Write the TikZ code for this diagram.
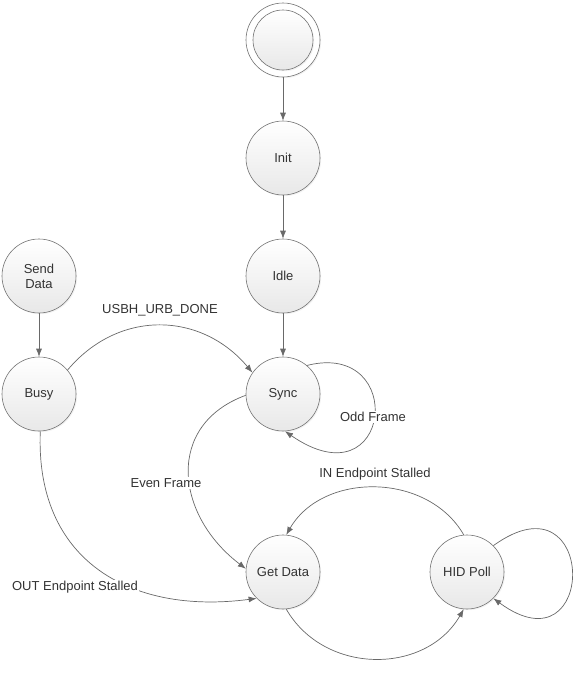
\documentclass[tikz,border=0pt]{standalone}
\definecolor{EdgeGray}{RGB}{105,105,105}
\definecolor{RimGray}{RGB}{115,115,115}
\definecolor{FillGray}{RGB}{232,232,232}
\definecolor{TextGray}{RGB}{51,51,51}
\usepackage{fontspec}
\setmainfont{Liberation Sans}
\usepackage{tikz}
\usetikzlibrary{arrows.meta,shadows}

\begin{document}
\begin{tikzpicture}[x=1pt,y=1pt,
    state/.style={circle,draw=RimGray,line width=0.6pt,top color=white,bottom color=FillGray,
      minimum size=74pt,inner sep=0pt,align=center,text=TextGray,
      font=\fontsize{13}{15}\selectfont,
      drop shadow={shadow xshift=1.2pt,shadow yshift=-1.2pt,opacity=0.1}},
    edge/.style={draw=EdgeGray,line width=0.7pt,-{Latex[length=8pt,width=6pt]}},
    lbl/.style={text=TextGray,font=\fontsize{13}{15}\selectfont,inner sep=1pt}]
  \useasboundingbox (0,0) rectangle (588,-686);

  % states
  \node[state,top color=white,bottom color=white] (start) at (283,-40) {};
  \node[state,minimum size=60pt,drop shadow={opacity=0}] (startin) at (start) {};
  \node[state] (init) at (283,-158) {Init};
  \node[state] (idle) at (283,-276) {Idle};
  \node[state] (sync) at (283,-394) {Sync};
  \node[state] (send) at (39,-276) {Send\\Data};
  \node[state] (busy) at (39,-394) {Busy};
  \node[state] (getdata) at (283,-572) {Get Data};
  \node[state] (hidpoll) at (467,-572) {HID Poll};

  % straight transitions
  \foreach \a/\b in {start/init,init/idle,idle/sync,send/busy}
    \draw[edge] (\a) -- (\b);

  % curved transitions
  \draw[edge] (busy.40) to[out=50,in=130,looseness=1.1] (sync.145);
  \draw[edge] (sync.50) .. controls (408,-340) and (392,-505) .. (sync.-87);
  \draw[edge] (sync.182) .. controls (165,-425) and (175,-515) .. (getdata.175);
  \draw[edge] (busy.-88) .. controls (35,-560) and (130,-615) .. (getdata.-135);
  \draw[edge] (hidpoll.95) to[out=120,in=60,looseness=1.05] (getdata.85);
  \draw[edge] (getdata.-85) to[out=-60,in=-120,looseness=1.1] (hidpoll.-95);
  \draw[edge] (hidpoll.45) .. controls (598,-470) and (598,-675) .. (hidpoll.-45);

  % labels
  \node[lbl] (ldone) at (160,-310) {USBH\_URB\_DONE};
  \node[lbl,fill=white] (lodd) at (373,-417) {Odd Frame};
  \node[lbl,fill=white] (leven) at (166,-483) {Even Frame};
  \node[lbl,fill=white] (lout) at (75,-587) {OUT Endpoint Stalled};
  \node[lbl] (lin) at (375,-474) {IN Endpoint Stalled};
\end{tikzpicture}
\end{document}
